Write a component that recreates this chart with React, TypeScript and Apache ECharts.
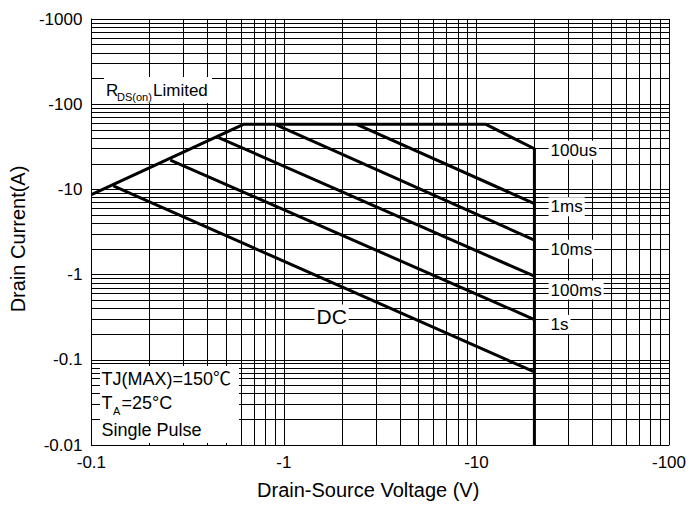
import React, { useEffect, useRef } from 'react';
import * as echarts from 'echarts';

// ---- axis ticks ----
const X_TICK_VALUES = [0.1, 1, 10, 100];
const X_TICK_LABELS = ['-0.1', '-1', '-10', '-100'];
const Y_TICK_VALUES = [0.01, 0.1, 1, 10, 100, 1000];
const Y_TICK_LABELS = ['-0.01', '-0.1', '-1', '-10', '-100', '-1000'];

// ---- SOA boundary: RDS(on) limit, current limit, 100us, VDS limit ----
const LIMIT_V = [0.1, 0.616, 11.2, 20, 20];
const LIMIT_I = [8.7, 58, 58, 30, 0.01];

// ---- pulse-width lines ----
const PULSE_NAMES = ['1ms', '10ms', '100ms', '1s', 'DC'];
const PULSE_START_V = [2.39, 0.9, 0.458, 0.257, 0.13];
const PULSE_START_I = [58, 58, 40.6, 22.1, 11.0];
const PULSE_END_V = [20, 20, 20, 20, 20];
const PULSE_END_I = [6.8, 2.54, 0.957, 0.297, 0.072];

// ---- curve labels (annotation anchors in data space) ----
const CURVE_LABELS = ['100us', '1ms', '10ms', '100ms', '1s'];
const CURVE_LABEL_ANCHOR_V = 23.7;
const CURVE_LABEL_ANCHOR_I = [28.9, 6.27, 1.98, 0.658, 0.261];
const DC_LABEL = 'DC';
const DC_LABEL_ANCHOR = [1.77, 0.318];

const FONT = "'Liberation Sans', Arial, 'Noto Sans CJK SC', sans-serif";

function logGrid(from: number, to: number): number[] {
  const out: number[] = [];
  for (let d = from; d < to * 0.999; d *= 10) {
    for (let k = 1; k < 10; k++) out.push(+(d * k).toPrecision(6));
  }
  out.push(to);
  return out;
}

function tickFormatter(values: number[], labels: string[]) {
  return (v: number) => {
    const i = values.findIndex((t) => Math.abs(Math.log10(t) - Math.log10(v)) < 1e-6);
    return i >= 0 ? labels[i] : '';
  };
}

export default function App() {
  const ref = useRef<HTMLDivElement>(null);
  useEffect(() => {
    const chart = echarts.init(ref.current!, null, { renderer: 'svg' });
    const xGrid = logGrid(X_TICK_VALUES[0], X_TICK_VALUES[X_TICK_VALUES.length - 1]);
    const yGrid = logGrid(Y_TICK_VALUES[0], Y_TICK_VALUES[Y_TICK_VALUES.length - 1]);
    const lineStyle = { color: '#000', width: 3 };
    const labelBase = {
      show: true,
      formatter: '{b}',
      color: '#000',
      opacity: 1,
      textBorderWidth: 0,
      fontFamily: FONT,
      backgroundColor: '#fff',
    };

    const option: any = {
      animation: false,
      backgroundColor: '#fff',
      textStyle: { fontFamily: FONT, color: '#000' },
      grid: { left: 90, right: 23, top: 19, bottom: 57, containLabel: false },
      xAxis: {
        type: 'log',
        logBase: 10,
        min: X_TICK_VALUES[0],
        max: X_TICK_VALUES[X_TICK_VALUES.length - 1],
        name: 'Drain-Source Voltage (V)',
        nameLocation: 'middle',
        nameGap: 35,
        nameTextStyle: { color: '#000', fontSize: 20, fontFamily: FONT, padding: [0, 24, 0, 0] },
        axisLine: { show: true, lineStyle: { color: '#000', width: 1 } },
        axisTick: { show: false },
        splitLine: { show: false },
        axisLabel: {
          color: '#000',
          fontSize: 17,
          fontFamily: FONT,
          margin: 9,
          formatter: tickFormatter(X_TICK_VALUES, X_TICK_LABELS),
        },
      },
      yAxis: {
        type: 'log',
        logBase: 10,
        min: Y_TICK_VALUES[0],
        max: Y_TICK_VALUES[Y_TICK_VALUES.length - 1],
        name: 'Drain Current(A)',
        nameLocation: 'middle',
        nameGap: 62,
        nameTextStyle: { color: '#000', fontSize: 20, fontFamily: FONT, padding: [0, 14, 0, 0] },
        axisLine: { show: true, lineStyle: { color: '#000', width: 1 } },
        axisTick: { show: false },
        splitLine: { show: false },
        axisLabel: {
          color: '#000',
          fontSize: 17,
          fontFamily: FONT,
          margin: 9,
          formatter: tickFormatter(Y_TICK_VALUES, Y_TICK_LABELS),
        },
      },
      series: [
        {
          type: 'line',
          name: 'grid',
          data: [],
          z: 1,
          silent: true,
          markLine: {
            silent: true,
            symbol: ['none', 'none'],
            label: { show: false },
            lineStyle: { color: '#000', width: 1, type: 'solid' },
            emphasis: { disabled: true },
            data: [
              ...xGrid.map((v) => ({ xAxis: v })),
              ...yGrid.map((v) => ({ yAxis: v })),
            ],
          },
        },
        {
          type: 'line',
          name: 'limit',
          data: LIMIT_V.map((v, i) => [v, LIMIT_I[i]]),
          symbol: 'none',
          lineStyle,
          z: 3,
          silent: true,
        },
        ...PULSE_NAMES.map((n, i) => ({
          type: 'line',
          name: n,
          data: [
            [PULSE_START_V[i], PULSE_START_I[i]],
            [PULSE_END_V[i], PULSE_END_I[i]],
          ],
          symbol: 'none',
          lineStyle,
          z: 3,
          silent: true,
        })),
        {
          type: 'scatter',
          name: 'curveLabels',
          symbolSize: 0,
          z: 10,
          silent: true,
          itemStyle: { color: '#000', opacity: 1 },
          emphasis: { disabled: true },
          label: {
            ...labelBase,
            position: 'right',
            distance: 0,
            fontSize: 17,
            padding: [1, 2, 1, 2],
          },
          data: CURVE_LABELS.map((n, i) => ({
            name: n,
            value: [CURVE_LABEL_ANCHOR_V, CURVE_LABEL_ANCHOR_I[i]],
          })),
        },
        {
          type: 'scatter',
          name: 'dcLabel',
          symbolSize: 0,
          z: 10,
          silent: true,
          itemStyle: { color: '#000', opacity: 1 },
          emphasis: { disabled: true },
          label: {
            ...labelBase,
            position: 'inside',
            fontSize: 21,
            padding: [2, 2, 2, 2],
          },
          data: [{ name: DC_LABEL, value: DC_LABEL_ANCHOR }],
        },
      ],
      graphic: [
        { type: 'rect', z: 100, shape: { x: 104, y: 77, width: 108, height: 26 }, style: { fill: '#fff' } },
        { type: 'text', z: 101, x: 106, y: 90.5, style: { text: 'R', fontSize: 17, fontFamily: FONT, fill: '#000', verticalAlign: 'middle' } },
        { type: 'text', z: 101, x: 117, y: 97, style: { text: 'DS(on)', fontSize: 11, fontFamily: FONT, fill: '#000', verticalAlign: 'middle' } },
        { type: 'text', z: 101, x: 153, y: 90.5, style: { text: 'Limited', fontSize: 17, fontFamily: FONT, fill: '#000', verticalAlign: 'middle' } },

        { type: 'rect', z: 100, shape: { x: 100, y: 366, width: 139, height: 77 }, style: { fill: '#fff' } },
        { type: 'text', z: 101, x: 101.5, y: 379, style: { text: 'TJ(MAX)=150℃', fontSize: 18, fontFamily: FONT, fill: '#000', verticalAlign: 'middle' } },
        { type: 'text', z: 101, x: 101.5, y: 403, style: { text: 'T', fontSize: 18, fontFamily: FONT, fill: '#000', verticalAlign: 'middle' } },
        { type: 'text', z: 101, x: 113, y: 411, style: { text: 'A', fontSize: 11, fontFamily: FONT, fill: '#000', verticalAlign: 'middle' } },
        { type: 'text', z: 101, x: 121.5, y: 403, style: { text: '=25°C', fontSize: 18, fontFamily: FONT, fill: '#000', verticalAlign: 'middle' } },
        { type: 'text', z: 101, x: 101.5, y: 430, style: { text: 'Single Pulse', fontSize: 18, fontFamily: FONT, fill: '#000', verticalAlign: 'middle' } },
      ],
    };
    chart.setOption(option);
    return () => chart.dispose();
  }, []);
  return (
    <div
      ref={ref}
      style={{ position: 'fixed', left: 0, top: 0, width: 692, height: 505, background: '#fff' }}
    />
  );
}
